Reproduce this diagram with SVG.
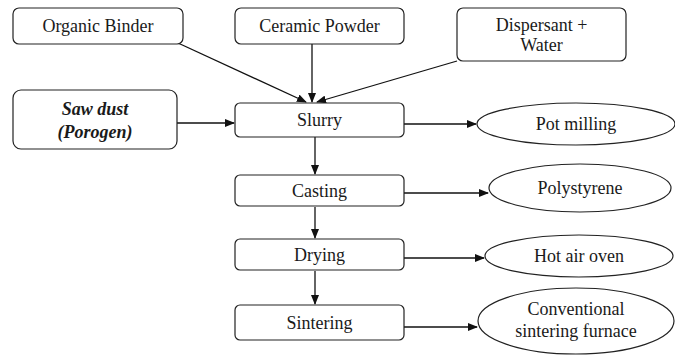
<svg xmlns="http://www.w3.org/2000/svg" width="675" height="356" viewBox="0 0 675 356">
<defs>
<style>
.box{fill:#fff;stroke:#222;stroke-width:1.2}
.t{font-family:"Liberation Serif","Times New Roman",serif;font-size:18px;fill:#1a1a1a;text-anchor:middle}
.bi{font-style:italic;font-weight:bold}
.c{stroke:#111;stroke-width:1.3;fill:none;marker-end:url(#ah)}
</style>
<marker id="ah" markerWidth="10" markerHeight="8" refX="9" refY="4" orient="auto" markerUnits="userSpaceOnUse">
<path d="M0,0 L10,4 L0,8 Z" fill="#111"/>
</marker>
</defs>
<rect width="675" height="356" fill="#fff"/>
<g id="connectors">
<line class="c" x1="178" y1="43" x2="306" y2="102"/>
<line class="c" x1="312" y1="44" x2="312" y2="102"/>
<line class="c" x1="457" y1="61" x2="317" y2="102"/>
<line class="c" x1="177" y1="123" x2="234" y2="123"/>
<line class="c" x1="315" y1="137" x2="315" y2="174"/>
<line class="c" x1="315" y1="207" x2="315" y2="238"/>
<line class="c" x1="315" y1="271" x2="315" y2="304"/>
<line class="c" x1="404" y1="124" x2="476" y2="124"/>
<line class="c" x1="404" y1="193" x2="488" y2="193"/>
<line class="c" x1="404" y1="258" x2="484" y2="258"/>
<line class="c" x1="404" y1="327" x2="477" y2="327"/>
</g>
<g id="organic-binder"><rect class="box" x="13" y="8" width="170" height="36" rx="6"/><text class="t" x="98" y="32">Organic Binder</text></g>
<g id="ceramic-powder"><rect class="box" x="235" y="8" width="169" height="36" rx="6"/><text class="t" x="319.5" y="32">Ceramic Powder</text></g>
<g id="dispersant-water"><rect class="box" x="457" y="8" width="169" height="53" rx="6"/><text class="t" x="541.5" y="31">Dispersant +</text><text class="t" x="541.5" y="51">Water</text></g>
<g id="saw-dust"><rect class="box" x="13" y="90" width="164" height="59" rx="8"/><text class="t bi" x="95" y="115">Saw dust</text><text class="t bi" x="95" y="138">(Porogen)</text></g>
<g id="slurry"><rect class="box" x="235" y="103" width="169" height="34" rx="5"/><text class="t" x="319.5" y="126">Slurry</text></g>
<g id="casting"><rect class="box" x="235" y="175" width="169" height="31" rx="5"/><text class="t" x="319.5" y="197">Casting</text></g>
<g id="drying"><rect class="box" x="235" y="239" width="169" height="31" rx="5"/><text class="t" x="319.5" y="261">Drying</text></g>
<g id="sintering"><rect class="box" x="235" y="305" width="169" height="35" rx="5"/><text class="t" x="319.5" y="329">Sintering</text></g>
<g id="pot-milling"><ellipse class="box" cx="576" cy="124" rx="99" ry="21"/><text class="t" x="576" y="130">Pot milling</text></g>
<g id="polystyrene"><ellipse class="box" cx="580" cy="188" rx="91" ry="24"/><text class="t" x="580" y="194">Polystyrene</text></g>
<g id="hot-air-oven"><ellipse class="box" cx="579" cy="256" rx="94" ry="21"/><text class="t" x="579" y="262">Hot air oven</text></g>
<g id="conventional"><ellipse class="box" cx="576" cy="321" rx="98" ry="33"/><text class="t" x="576" y="315">Conventional</text><text class="t" x="576" y="337">sintering furnace</text></g>
</svg>
